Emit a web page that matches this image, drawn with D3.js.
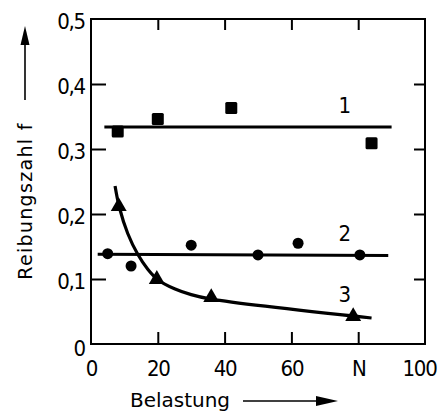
<!DOCTYPE html>
<html><head><meta charset="utf-8">
<script src="https://cdn.jsdelivr.net/npm/d3@7"></script>
<style>
html,body{margin:0;padding:0;background:#fff;}
svg{display:block;}
.tick text{font-family:"DejaVu Sans Condensed","DejaVu Sans",sans-serif;font-stretch:condensed;font-size:22px;letter-spacing:-1.2px;fill:#000;}
</style></head>
<body>
<svg id="c" width="440" height="415"></svg>
<script>
// data
const xTickValues = [0, 20, 40, 60, 80, 100];
const xTickLabels = ["0", "20", "40", "60", "N", "100"];
const yTickValues = [0, 0.1, 0.2, 0.3, 0.4, 0.5];
const yTickLabels = ["0", "0,1", "0,2", "0,3", "0,4", "0,5"];

const s1x = [8, 20, 42, 84];
const s1y = [0.327, 0.346, 0.363, 0.309];
const s1line = [[4, 0.334], [90, 0.334]];

const s2x = [5, 12, 30, 50, 62, 80.5];
const s2y = [0.139, 0.12, 0.152, 0.137, 0.155, 0.137];
const s2line = [[2, 0.138], [89, 0.136]];

const s3x = [8.3, 19.7, 36, 78.5];
const s3y = [0.21, 0.098, 0.07, 0.041];
const s3curve = [[7.2, 0.243], [8.5, 0.21], [11, 0.17], [14, 0.138], [17, 0.115], [20, 0.099], [25, 0.085], [30, 0.076], [36, 0.069], [84, 0.04]];

const seriesLabels = [{t: "1", x: 76, y: 0.355}, {t: "2", x: 76, y: 0.158}, {t: "3", x: 76, y: 0.065}];

const svg = d3.select("#c");
const x = d3.scaleLinear().domain([0, 100]).range([91, 425]);
const y = d3.scaleLinear().domain([0, 0.5]).range([344, 19]);

// frame
svg.append("rect").attr("x", x(0)).attr("y", y(0.5))
  .attr("width", x(100) - x(0)).attr("height", y(0) - y(0.5))
  .attr("fill", "none").attr("stroke", "#000").attr("stroke-width", 2);

function styleAxis(g) {
  g.select(".domain").remove();
  g.selectAll(".tick line").attr("stroke", "#000").attr("stroke-width", 2);
}

const inner = v => v > 0 && v < 100;
const innerY = v => v > 0.01 && v < 0.49;

svg.append("g").attr("transform", `translate(0,${y(0)})`)
  .call(d3.axisBottom(x).tickValues(xTickValues).tickSizeInner(-12).tickSizeOuter(0).tickPadding(16)
    .tickFormat((d, i) => xTickLabels[i]))
  .call(styleAxis)
  .call(g => g.selectAll(".tick line").filter(d => !inner(d)).remove())
  .call(g => g.selectAll(".tick text").filter(d => d === 100).attr("dx", "-6"));

svg.append("g").attr("transform", `translate(0,${y(0.5)})`)
  .call(d3.axisTop(x).tickValues(xTickValues.filter(inner)).tickSizeInner(-11).tickSizeOuter(0).tickFormat(""))
  .call(styleAxis);

svg.append("g").attr("transform", `translate(${x(0)},0)`)
  .call(d3.axisLeft(y).tickValues(yTickValues).tickSizeInner(-15).tickSizeOuter(0).tickPadding(6)
    .tickFormat((d, i) => yTickLabels[i]))
  .call(styleAxis)
  .call(g => g.selectAll(".tick line").filter(d => !innerY(d)).remove())
  .call(g => g.selectAll(".tick text").attr("dy", d => d === 0 ? "0.5em" : "0.45em"));

svg.append("g").attr("transform", `translate(${x(100)},0)`)
  .call(d3.axisRight(y).tickValues(yTickValues.filter(innerY)).tickSizeInner(-11).tickSizeOuter(0).tickFormat(""))
  .call(styleAxis);

// lines
const line = d3.line().x(d => x(d[0])).y(d => y(d[1]));
svg.append("path").attr("d", line(s1line)).attr("fill", "none").attr("stroke", "#000").attr("stroke-width", 3);
svg.append("path").attr("d", line(s2line)).attr("fill", "none").attr("stroke", "#000").attr("stroke-width", 3);
svg.append("path").attr("d", line.curve(d3.curveCatmullRom.alpha(0.5))(s3curve))
  .attr("fill", "none").attr("stroke", "#000").attr("stroke-width", 3.2);

// markers
svg.append("g").selectAll("rect").data(s1x).join("rect")
  .attr("x", (d) => x(d) - 6).attr("y", (d, i) => y(s1y[i]) - 6)
  .attr("width", 12).attr("height", 12).attr("rx", 1.5).attr("fill", "#000");

svg.append("g").selectAll("circle").data(s2x).join("circle")
  .attr("cx", d => x(d)).attr("cy", (d, i) => y(s2y[i])).attr("r", 5.5).attr("fill", "#000");

const tri = d3.symbol().type(d3.symbolTriangle).size(110);
svg.append("g").selectAll("path").data(s3x).join("path")
  .attr("d", tri).attr("transform", (d, i) => `translate(${x(d)},${y(s3y[i]) - 1})`).attr("fill", "#000");

// series labels
svg.append("g").selectAll("text").data(seriesLabels).join("text")
  .attr("x", d => x(d.x)).attr("y", d => y(d.y)).attr("text-anchor", "middle")
  .attr("font-family", "'DejaVu Sans Condensed','DejaVu Sans',sans-serif").attr("font-size", 22)
  .text(d => d.t);

// axis titles with arrows
const axisFont = "'DejaVu Sans','Noto Sans',sans-serif";
svg.append("text").attr("transform", "translate(32,201) rotate(-90)")
  .attr("text-anchor", "middle").attr("font-family", axisFont).attr("font-size", 19)
  .attr("letter-spacing", 1.3).text("Reibungszahl f");
svg.append("line").attr("x1", 25).attr("x2", 25).attr("y1", 100).attr("y2", 42).attr("stroke", "#000").attr("stroke-width", 1.6);
svg.append("path").attr("d", "M25,26 L20.5,45 L29.5,45 Z").attr("fill", "#000");

svg.append("text").attr("x", 180).attr("y", 407)
  .attr("text-anchor", "middle").attr("font-family", axisFont).attr("font-size", 20).text("Belastung");
svg.append("line").attr("x1", 243).attr("x2", 320).attr("y1", 401).attr("y2", 401).attr("stroke", "#000").attr("stroke-width", 1.6);
svg.append("path").attr("d", "M338,401 L316,396 L316,406 Z").attr("fill", "#000");
</script>
</body></html>
